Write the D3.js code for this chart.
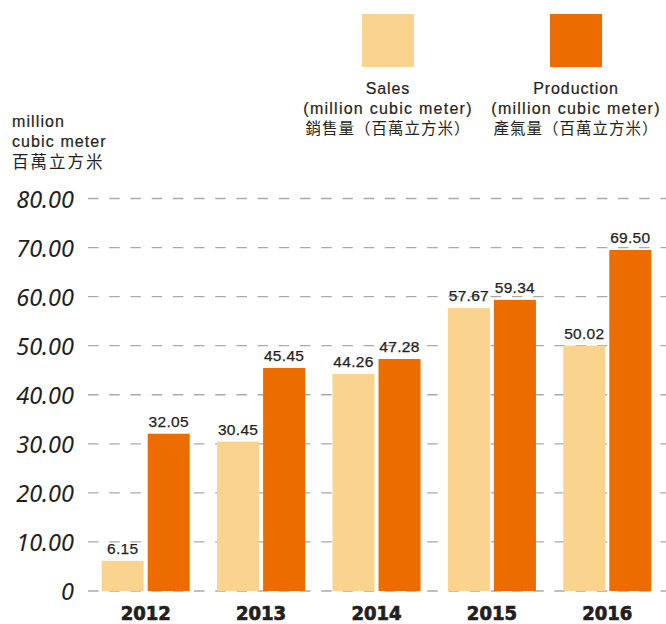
<!DOCTYPE html>
<html>
<head>
<meta charset="utf-8">
<script src="https://cdn.jsdelivr.net/npm/d3@7"></script>
<style>
  html, body { margin: 0; padding: 0; background: #fff; }
  svg { display: block; }
</style>
</head>
<body>
<script>
const years = ["2012", "2013", "2014", "2015", "2016"];
const sales = [6.15, 30.45, 44.26, 57.67, 50.02];
const production = [32.05, 45.45, 47.28, 59.34, 69.50];
const yTicks = [0, 10, 20, 30, 40, 50, 60, 70, 80];
const seriesKeys = ["sales", "production"];
const seriesColors = ["#fad48e", "#ec6c00"];
const legendLines = [
  ["Sales", "(million cubic meter)", "銷售量（百萬立方米）"],
  ["Production", "(million cubic meter)", "產氣量（百萬立方米）"]
];
const yTitle = ["million", "cubic meter", "百萬立方米"];

const W = 666, H = 624;
const textColor = "#231f20";
const latin = "'Liberation Sans', Arial, Helvetica, sans-serif";
const cjk = "'Noto Sans CJK TC', 'Noto Sans CJK SC', sans-serif";

const svg = d3.select("body").append("svg").attr("width", W).attr("height", H);

const y = d3.scaleLinear().domain([0, 80]).range([591, 198.5]);
const x = d3.scaleBand().domain(years).range([88, 665]).paddingInner(0.237).paddingOuter(0.1185);
const xs = d3.scaleBand().domain(seriesKeys).range([0, x.bandwidth()]).paddingInner(0.087);

// gridlines
svg.append("g").selectAll("line").data(yTicks).join("line")
  .attr("x1", 88).attr("x2", 666)
  .attr("y1", d => y(d)).attr("y2", d => y(d))
  .attr("stroke", "#aaaaaa").attr("stroke-width", 1.3)
  .attr("stroke-dasharray", "10.5,10.7");

// y tick labels
svg.append("g").selectAll("text").data(yTicks).join("text")
  .attr("x", 74).attr("y", d => y(d) + 9)
  .attr("text-anchor", "end")
  .attr("font-family", "'Noto Sans', 'Open Sans', sans-serif")
  .attr("font-style", "italic")
  .attr("font-size", 23.5)
  .attr("fill", textColor)
  .text(d => d === 0 ? "0" : d3.format(".2f")(d));

// bars
const rows = years.map((yr, i) => ({ year: yr, sales: sales[i], production: production[i] }));
const groups = svg.append("g").selectAll("g").data(rows).join("g")
  .attr("transform", d => `translate(${x(d.year)},0)`);

groups.selectAll("rect").data(d => seriesKeys.map(k => ({ key: k, value: d[k] }))).join("rect")
  .attr("x", d => xs(d.key))
  .attr("width", xs.bandwidth())
  .attr("y", d => y(d.value))
  .attr("height", d => y(0) - y(d.value))
  .attr("fill", d => seriesColors[seriesKeys.indexOf(d.key)]);

groups.selectAll("text.val").data(d => seriesKeys.map(k => ({ key: k, value: d[k] }))).join("text")
  .attr("class", "val")
  .attr("x", d => xs(d.key) + xs.bandwidth() / 2)
  .attr("y", d => y(d.value) - 7)
  .attr("text-anchor", "middle")
  .attr("font-family", latin)
  .attr("font-size", 15.5)
  .attr("letter-spacing", 0.3)
  .attr("fill", textColor)
  .attr("stroke", textColor).attr("stroke-width", 0.25)
  .text(d => d3.format(".2f")(d.value));

// year labels
svg.append("g").selectAll("text").data(years).join("text")
  .attr("x", d => x(d) + x.bandwidth() / 2)
  .attr("y", 619.8)
  .attr("text-anchor", "middle")
  .attr("font-family", "'Liberation Sans Narrow', 'DejaVu Sans Condensed', sans-serif")
  .attr("font-weight", "bold")
  .attr("font-size", 20)
  .attr("fill", textColor)
  .attr("stroke", textColor)
  .attr("stroke-width", 0.7)
  .text(d => d);

// legend
const legendX = [362, 550];
const lg = svg.append("g").selectAll("g").data(seriesKeys).join("g")
  .attr("transform", (d, i) => `translate(${legendX[i]},0)`);
lg.append("rect")
  .attr("x", 0).attr("y", 14).attr("width", 52).attr("height", 53)
  .attr("fill", (d, i) => seriesColors[i]);
lg.each(function (d, i) {
  const g = d3.select(this);
  const cx = 26;
  g.append("text").attr("x", cx).attr("y", 94).attr("text-anchor", "middle")
    .attr("font-family", latin).attr("font-size", 16).attr("letter-spacing", 0.9)
    .attr("fill", textColor).attr("stroke", textColor).attr("stroke-width", 0.2)
    .text(legendLines[i][0]);
  g.append("text").attr("x", cx).attr("y", 114).attr("text-anchor", "middle")
    .attr("font-family", latin).attr("font-size", 16).attr("letter-spacing", 1.25)
    .attr("fill", textColor).attr("stroke", textColor).attr("stroke-width", 0.2)
    .text(legendLines[i][1]);
  g.append("text").attr("x", cx).attr("y", 134).attr("text-anchor", "middle")
    .attr("font-family", cjk).attr("font-size", 15.5).attr("letter-spacing", 1)
    .attr("fill", textColor).text(legendLines[i][2]);
});

// y-axis title
const yt = svg.append("g");
yt.append("text").attr("x", 12).attr("y", 126.5)
  .attr("font-family", latin).attr("font-size", 16).attr("letter-spacing", 1.1)
  .attr("fill", textColor).attr("stroke", textColor).attr("stroke-width", 0.2)
  .text(yTitle[0]);
yt.append("text").attr("x", 12).attr("y", 146.5)
  .attr("font-family", latin).attr("font-size", 16).attr("letter-spacing", 1.1)
  .attr("fill", textColor).attr("stroke", textColor).attr("stroke-width", 0.2)
  .text(yTitle[1]);
yt.append("text").attr("x", 12).attr("y", 168)
  .attr("font-family", cjk).attr("font-size", 16.5).attr("letter-spacing", 2)
  .attr("fill", textColor).text(yTitle[2]);
</script>
</body>
</html>
